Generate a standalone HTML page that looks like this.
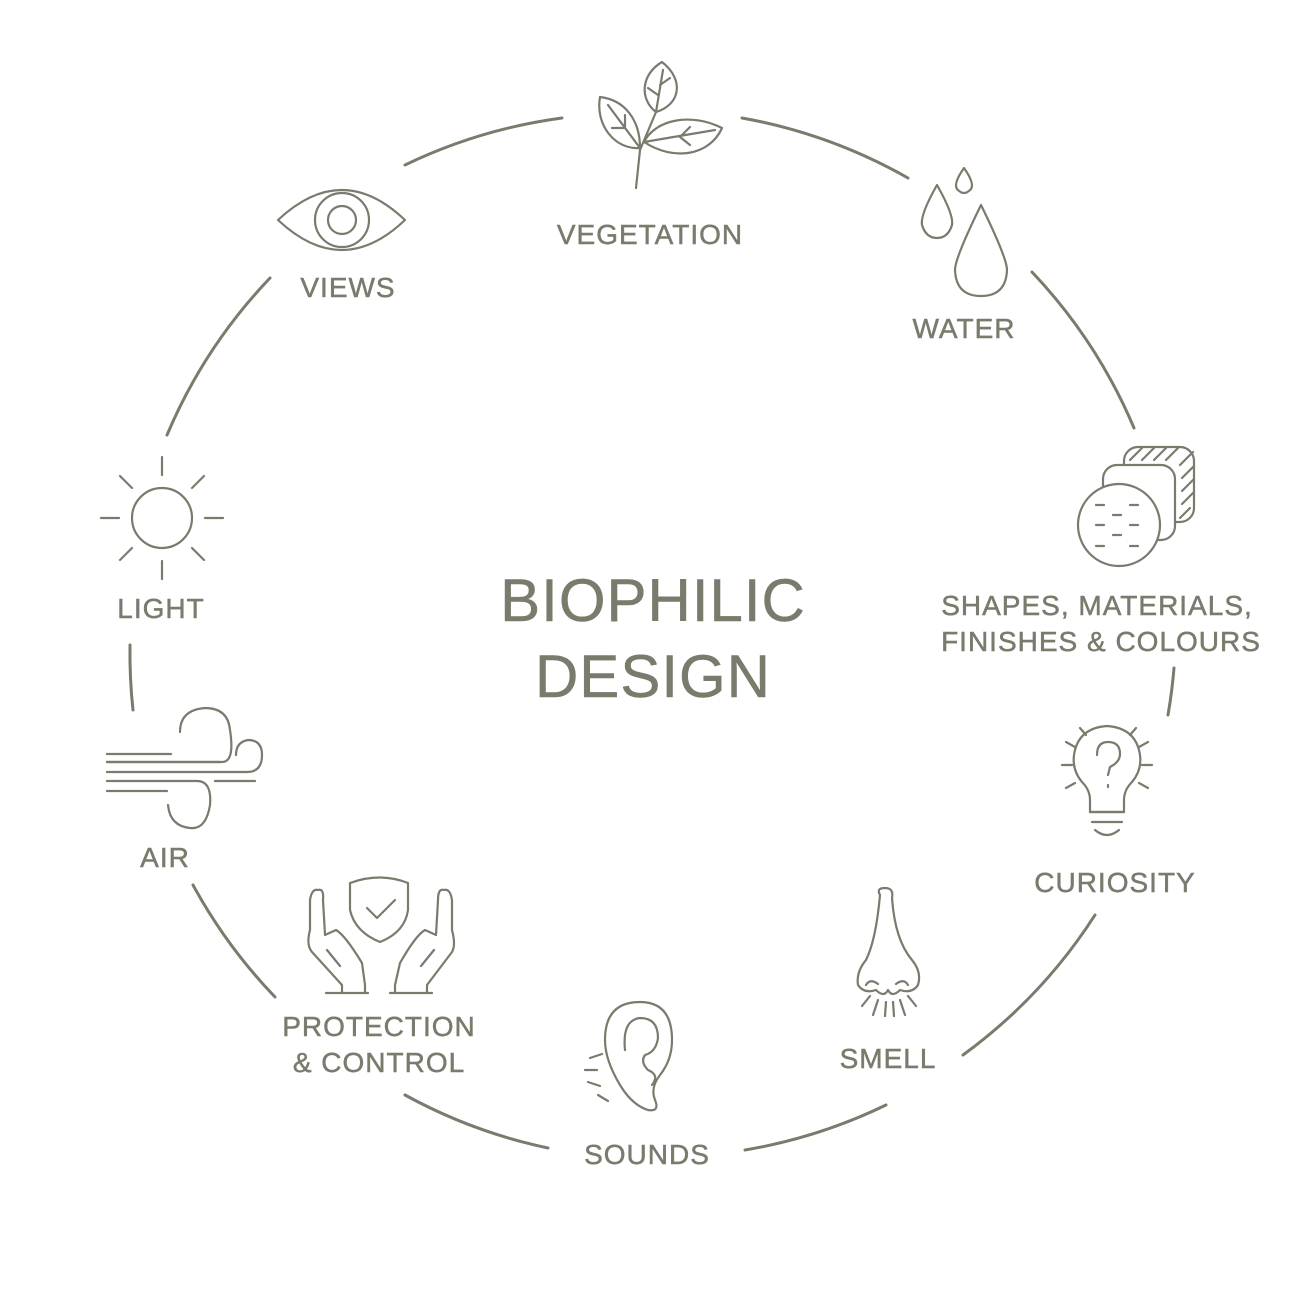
<!DOCTYPE html>
<html><head><meta charset="utf-8"><style>
html,body{margin:0;padding:0;background:#fff}
svg{display:block}
text{font-family:"Liberation Sans",sans-serif;fill:#7a7b6c;stroke:#7a7b6c;stroke-width:0.5;text-anchor:middle}
</style></head><body>
<svg width="1300" height="1300" viewBox="0 0 1300 1300" xmlns="http://www.w3.org/2000/svg">
<g fill="none" stroke="#7a7b6c" stroke-width="3" stroke-linecap="round">
<path d="M167 435 A522 522 0 0 1 270 278"/>
<path d="M405 165 A522 522 0 0 1 562 118"/>
<path d="M742 118 A522 522 0 0 1 908 178"/>
<path d="M1032 272 A522 522 0 0 1 1134 428"/>
<path d="M1174 668 A522 522 0 0 1 1168 715"/>
<path d="M1095 915 A522 522 0 0 1 963 1055"/>
<path d="M886 1105 A522 522 0 0 1 745 1150"/>
<path d="M548 1148 A522 522 0 0 1 405 1095"/>
<path d="M275 997 A522 522 0 0 1 193 885"/>
<path d="M133 710 A522 522 0 0 1 130 645"/>
</g>
<g fill="none" stroke="#7a7b6c" stroke-width="2.2" stroke-linecap="round" stroke-linejoin="round">
<path d="M636 188 L640 150 L656 112"/>
<path d="M656 112 C640 100 640 75 662 62 C685 80 680 105 656 112Z"/>
<path d="M656 112 L663 70 M658 95 L648 88 M660 85 L670 78"/>
<path d="M640 148 C615 150 595 125 600 97 C625 100 640 120 640 148Z"/>
<path d="M640 148 L608 105 M625 128 L625 115 M625 128 L612 128"/>
<path d="M644 142 C655 120 690 112 722 128 C710 155 675 162 644 142Z"/>
<path d="M644 142 L715 130 M680 137 L690 127 M680 137 L690 145"/>
<path d="M278 220 Q342 160 405 220 Q342 280 278 220Z"/>
<circle cx="342" cy="220" r="27"/>
<circle cx="342" cy="220" r="14"/>
<path d="M964 168 Q952 185 958 190 Q964 196 970 190 Q976 185 964 168Z"/>
<path d="M937 185 Q920 215 922 225 Q926 238 937 238 Q948 238 952 225 Q954 215 937 185Z"/>
<path d="M981 205 Q955 258 955 270 Q956 296 981 296 Q1006 296 1007 270 Q1007 258 981 205Z"/>
<rect x="1124" y="447" width="70" height="75" rx="14"/>
<path d="M1130 460 L1142 448 M1142 460 L1154 448 M1154 460 L1166 448 M1166 460 L1178 448 M1180 465 L1193 452 M1182 478 L1194 466 M1182 491 L1194 479 M1182 504 L1194 492 M1180 518 L1190 508"/>
<rect x="1103" y="465" width="72" height="75" rx="14" fill="#fff"/>
<circle cx="1119" cy="525" r="41" fill="#fff"/>
<path d="M1096 505h8M1130 505h8M1113 515h8M1096 525h8M1130 525h8M1113 535h8M1096 546h8M1130 546h8"/>
<path d="M1090 812 L1090 800 Q1090 790 1082 782 Q1072 770 1074 755 Q1078 728 1107 726 Q1136 728 1140 755 Q1142 770 1132 782 Q1124 790 1124 800 L1124 812Z"/>
<path d="M1090 812h34 M1092 822h30 M1095 830 Q1107 840 1119 830"/>
<path d="M1097 755 Q1097 742 1108 742 Q1120 742 1120 754 Q1120 762 1110 767 L1108 775 M1108 785 v2"/>
<path d="M1062 765h10 M1142 765h10 M1066 742l9 5 M1148 742l-9 5 M1066 788l9-5 M1148 788l-9-5 M1080 728l6 7 M1136 728l-6 7"/>
<path d="M880 895 Q876 888 885 888 Q894 888 892 898 Q895 940 912 960 Q922 972 918 985 Q912 994 900 990 Q892 998 888 990 Q884 998 876 990 Q864 994 858 985 Q856 972 866 960 Q876 940 880 895Z"/>
<path d="M866 985 Q870 978 878 984 M908 985 Q904 978 896 984"/>
<path d="M878 1000 l-5 15 M886 1002 l-1 14 M893 1002 l1 14 M900 1000 l5 15 M870 996 l-8 10 M908 996 l8 10"/>
<path d="M620 1085 Q605 1060 605 1040 Q605 1002 640 1002 Q672 1002 672 1040 Q672 1060 660 1075 Q650 1088 655 1100 Q660 1112 648 1110 Q632 1105 620 1085Z"/>
<path d="M625 1050 Q622 1020 640 1018 Q658 1018 658 1038 Q656 1052 645 1055 Q640 1062 648 1070 Q660 1075 652 1085"/>
<path d="M585 1070h12 M588 1082 l12 4 M598 1095 l10 6 M590 1058 l12 -4"/>
<path d="M350 883 Q380 872 408 883 L408 910 Q405 932 380 942 Q355 932 350 910Z"/>
<path d="M367 908 L377 918 L395 900"/>
<path d="M342 993 L342 985 L312 952 Q306 945 310 930 L310 900 Q312 888 318 890 Q324 888 323 900 L325 935 L336 930 Q345 935 362 963 L365 985 L365 993 M327 950 L340 966"/>
<path d="M427 993 L427 985 L452 952 Q456 945 452 930 L452 900 Q450 888 444 890 Q438 888 438 900 L436 935 L425 930 Q416 935 400 963 L395 985 L395 993 M434 950 L421 966"/>
<path d="M326 993h42 M390 993h42"/>
<path d="M107 754h64 M107 762h113 Q140 762 170 762 M107 772h140 Q262 772 262 755 Q262 740 248 740 Q236 742 236 755"/>
<path d="M107 762h115 Q235 762 230 730 Q228 708 205 708 Q180 710 180 732"/>
<path d="M107 781h90 Q212 781 210 805 Q206 830 190 828 Q170 826 168 805"/>
<path d="M107 791h60 M215 781h40"/>
<circle cx="162" cy="518" r="30"/>
<path d="M162 457v18 M162 561v18 M101 518h18 M205 518h18 M120 476l12 12 M192 548l12 12 M204 476l-12 12 M132 548l-12 12"/>
</g>
<g font-size="28" letter-spacing="1">
<text x="650" y="244">VEGETATION</text>
<text x="348" y="297">VIEWS</text>
<text x="964" y="338">WATER</text>
<text x="1097" y="615">SHAPES, MATERIALS,</text>
<text x="1101" y="651">FINISHES &amp; COLOURS</text>
<text x="1115" y="892">CURIOSITY</text>
<text x="888" y="1068">SMELL</text>
<text x="647" y="1164">SOUNDS</text>
<text x="379" y="1036">PROTECTION</text>
<text x="379" y="1072">&amp; CONTROL</text>
<text x="165" y="867">AIR</text>
<text x="161" y="618">LIGHT</text>
</g>
<text x="653" y="621" font-size="60" letter-spacing="1">BIOPHILIC</text>
<text x="653" y="697" font-size="60" letter-spacing="1">DESIGN</text>
</svg>
</body></html>
